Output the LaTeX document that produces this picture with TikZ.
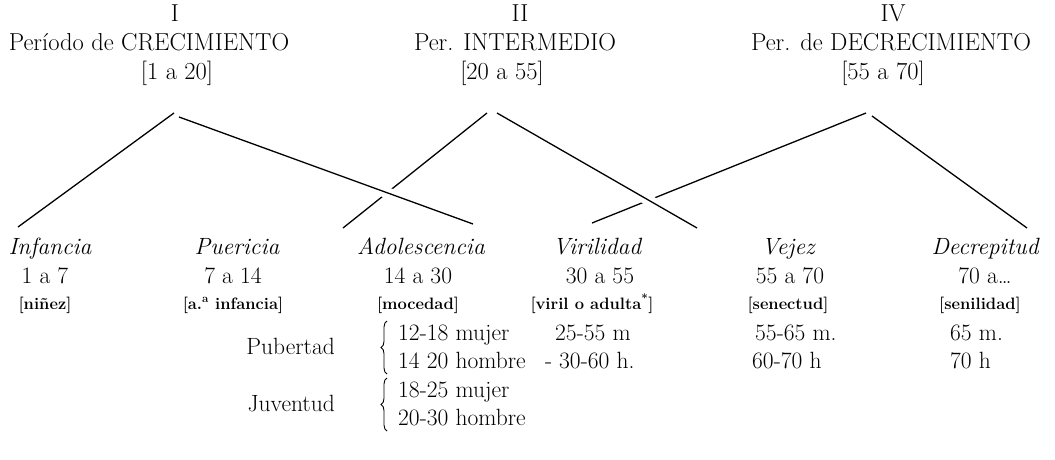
\documentclass[tikz,border=0pt]{standalone}
\usetikzlibrary{decorations.pathreplacing}
\begin{document}
\begin{tikzpicture}[x=1pt,y=-1pt,
  hd/.style={inner sep=0pt, anchor=base, font=\fontsize{24.5}{28}\selectfont},
  txt/.style={inner sep=0pt, anchor=base, font=\fontsize{23.5}{28}\selectfont},
  nm/.style={inner sep=0pt, anchor=base, font=\fontsize{23.5}{28}\selectfont\itshape},
  brk/.style={inner sep=0pt, anchor=base, font=\fontsize{16.5}{20}\selectfont\bfseries},
  lft/.style={txt, anchor=base west},
  rgt/.style={txt, anchor=base east},
  ln/.style={line width=1.3pt},
  over/.style={ln, preaction={draw=white, line width=11pt}},
  cbrace/.style={line width=0.9pt, decorate, decoration={brace, amplitude=6pt}},
]
\useasboundingbox (0,0) rectangle (1055,460);
% headings
\node[hd] (h1a) at (175,22) {I};
\node[hd] (h1b) at (149,51) {Período de CRECIMIENTO};
\node[hd] (h1c) at (177,80) {[1 a 20]};
\node[hd] (h2a) at (520,22) {II};
\node[hd] (h2b) at (515,51) {Per. INTERMEDIO};
\node[hd] (h2c) at (502,80) {[20 a 55]};
\node[hd] (h4a) at (893,22) {IV};
\node[hd] (h4b) at (891,51) {Per. de DECRECIMIENTO};
\node[hd] (h4c) at (883,80) {[55 a 70]};
% stage names
\node[nm] (n1) at (50,254) {Infancia};
\node[nm] (n2) at (237,254) {Puericia};
\node[nm] (n3) at (421,254) {Adolescencia};
\node[nm] (n4) at (597,254) {Virilidad};
\node[nm] (n5) at (788,254) {Vejez};
\node[nm] (n6) at (985,254) {Decrepitud};
% ages
\node[txt] (a1) at (45,283) {1 a 7};
\node[txt] (a2) at (233,283) {7 a 14};
\node[txt] (a3) at (418,283) {14 a 30};
\node[txt] (a4) at (600,283) {30 a 55};
\node[txt] (a5) at (790,283) {55 a 70};
\node[txt] (a6) at (985,283) {70 a\ldots};
% bracketed names
\node[brk] (b1) at (45,309) {[niñez]};
\node[brk] (b2) at (233,309) {[a.\textsuperscript{a} infancia]};
\node[brk] (b3) at (418,309) {[mocedad]};
\node[brk] (b4) at (592,309) {[viril o adulta\textsuperscript{*}]};
\node[brk] (b5) at (788,309) {[senectud]};
\node[brk] (b6) at (980,309) {[senilidad]};
% sub rows
\node[rgt] (pub) at (335,354) {Pubertad};
\node[rgt] (juv) at (335,411) {Juventud};
\node[lft] (r1) at (398,340) {12-18 mujer};
\node[lft] (r2) at (398,368) {14 20 hombre};
\node[lft] (r3) at (398,397) {18-25 mujer};
\node[lft] (r4) at (398,425) {20-30 hombre};
\node[lft] (dash) at (545,368) {-};
\node[lft] (v1) at (555,340) {25-55 m};
\node[lft] (v2) at (559,368) {30-60 h.};
\node[lft] (s1) at (755,340) {55-65 m.};
\node[lft] (s2) at (752,368) {60-70 h};
\node[lft] (d1) at (950,340) {65 m.};
\node[lft] (d2) at (950,368) {70 h};
% braces
\coordinate (pbt) at (387,321);
\coordinate (pbb) at (387,374);
\coordinate (jbt) at (387,378);
\coordinate (jbb) at (387,431);
\draw[cbrace] (pbb) -- (pbt);
\draw[cbrace] (jbb) -- (jbt);
% tree coordinates
\coordinate (t1l) at (174,113);
\coordinate (t1r) at (179,117);
\coordinate (t2l) at (487,113);
\coordinate (t2r) at (497,113);
\coordinate (t4l) at (866,113);
\coordinate (t4r) at (872,116);
\coordinate (f1) at (18,227);
\coordinate (f3) at (473,224);
\coordinate (f3b) at (343,228);
\coordinate (f4) at (697,228);
\coordinate (f4b) at (592,223);
\coordinate (f6) at (1027,228);
% lines (the ones drawn later cross over with a gap)
\draw[ln] (t1l) -- (f1);
\draw[ln] (t2l) -- (f3b);
\draw[ln] (t4l) -- (f4b);
\draw[ln] (t4r) -- (f6);
\draw[over] (t1r) -- (f3);
\draw[over] (t2r) -- (f4);
\end{tikzpicture}
\end{document}
